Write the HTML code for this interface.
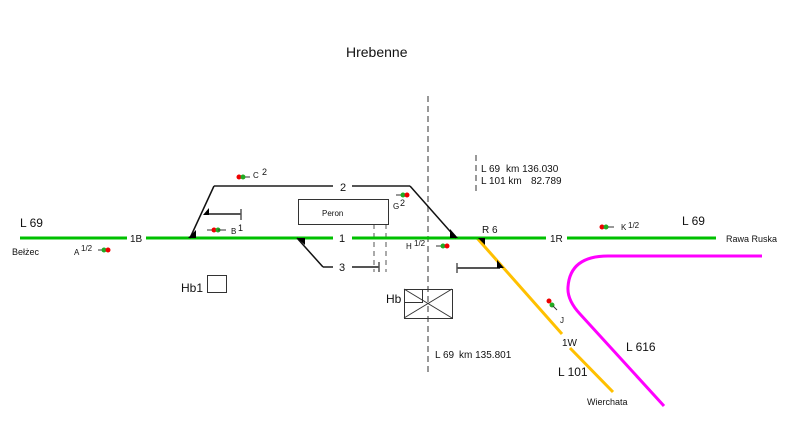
<!DOCTYPE html>
<html><head><meta charset="utf-8"><style>
html,body{margin:0;padding:0;background:#fff;}
svg text{font-family:"Liberation Sans",Arial,sans-serif;fill:#111;}
</style></head><body>
<svg width="787" height="435" viewBox="0 0 787 435" xmlns="http://www.w3.org/2000/svg">
<line x1="428" y1="96" x2="428" y2="373" stroke="#999" stroke-width="2" stroke-dasharray="6,4"/>
<line x1="476" y1="155" x2="476" y2="192" stroke="#999" stroke-width="2" stroke-dasharray="6,4"/>
<line x1="374" y1="224" x2="374" y2="272" stroke="#555" stroke-width="1" stroke-dasharray="5,4"/>
<line x1="386" y1="224" x2="386" y2="272" stroke="#555" stroke-width="1" stroke-dasharray="5,4"/>
<path d="M762,256 L608,256 Q570,256 568,287 Q567,300 580,314 L664,406" fill="none" stroke="#ff00ff" stroke-width="3"/>
<line x1="477" y1="238" x2="562" y2="334" stroke="#ffc000" stroke-width="3"/>
<line x1="570" y1="348" x2="613" y2="392" stroke="#ffc000" stroke-width="3"/>
<g stroke="#00c000" stroke-width="3">
<line x1="20" y1="238" x2="127" y2="238"/>
<line x1="146" y1="238" x2="333" y2="238"/>
<line x1="352" y1="238" x2="546" y2="238"/>
<line x1="567" y1="238" x2="716" y2="238"/>
</g>
<g stroke="#555" stroke-width="2" fill="none">
<line x1="214" y1="186" x2="333" y2="186"/>
<line x1="352" y1="186" x2="410" y2="186"/>
<line x1="208" y1="214" x2="241" y2="214"/>
<line x1="241" y1="209" x2="241" y2="220" stroke-width="1.5"/>
<line x1="323" y1="267" x2="333" y2="267"/>
<line x1="352" y1="267" x2="379" y2="267"/>
<line x1="379" y1="262" x2="379" y2="272" stroke-width="1.5"/>
<line x1="457" y1="268" x2="500" y2="268"/>
<line x1="457" y1="263" x2="457" y2="273" stroke-width="1.5"/>
</g>
<g stroke="#111" stroke-width="1.5" fill="none">
<line x1="190" y1="238" x2="214" y2="186"/>
<line x1="410" y1="186" x2="456" y2="238"/>
<line x1="297" y1="238" x2="323" y2="267"/>
</g>
<g fill="#000">
<polygon points="188,238 196,238 196,230"/>
<polygon points="203,215 209,215 209,208"/>
<polygon points="450,238 458,238 450,229"/>
<polygon points="297,238 305,238 305,245"/>
<polygon points="478,238 485,238 485,245"/>
<polygon points="497,268 504,268 497,260"/>
</g>
<rect x="298.5" y="199.5" width="90" height="25" fill="none" stroke="#333" stroke-width="1"/>
<text x="322" y="216" font-size="8">Peron</text>
<rect x="404.5" y="289.5" width="48" height="29" fill="none" stroke="#333" stroke-width="1"/>
<rect x="404.5" y="289.5" width="18" height="13" fill="none" stroke="#333" stroke-width="1"/>
<line x1="404" y1="289" x2="452" y2="318" stroke="#333" stroke-width="1"/>
<line x1="452" y1="289" x2="404" y2="318" stroke="#333" stroke-width="1"/>
<text x="386" y="303" font-size="12">Hb</text>
<rect x="207.5" y="275.5" width="19" height="17" fill="none" stroke="#333" stroke-width="1"/>
<text x="181" y="292" font-size="12">Hb1</text>
<g>
<line x1="240" y1="177" x2="250" y2="177" stroke="#333"/><circle cx="239" cy="177" r="2.5" fill="#e00"/><circle cx="243" cy="177" r="2.5" fill="#2a2"/>
<line x1="207" y1="230" x2="216" y2="230" stroke="#333"/><circle cx="214" cy="230" r="2.5" fill="#e00"/><circle cx="218" cy="230" r="2.5" fill="#2a2"/><line x1="218" y1="230" x2="226" y2="230" stroke="#333"/>
<line x1="396" y1="195" x2="403" y2="195" stroke="#333"/><circle cx="403" cy="195" r="2.5" fill="#2a2"/><circle cx="407" cy="195" r="2.5" fill="#e00"/>
<line x1="436" y1="246" x2="443" y2="246" stroke="#333"/><circle cx="443" cy="246" r="2.5" fill="#2a2"/><circle cx="447" cy="246" r="2.5" fill="#e00"/>
<line x1="98" y1="250" x2="104" y2="250" stroke="#333"/><circle cx="104" cy="250" r="2.5" fill="#2a2"/><circle cx="108" cy="250" r="2.5" fill="#e00"/>
<circle cx="602" cy="227" r="2.5" fill="#e00"/><circle cx="606" cy="227" r="2.5" fill="#2a2"/><line x1="608" y1="227" x2="614" y2="227" stroke="#333"/>
<circle cx="549" cy="301" r="2.5" fill="#e00"/><circle cx="552" cy="305" r="2.5" fill="#2a2"/><line x1="553" y1="306" x2="557" y2="310" stroke="#333"/>
</g>
<text x="346" y="57" font-size="14">Hrebenne</text>
<text x="20" y="227" font-size="12">L 69</text>
<text x="12" y="255" font-size="9">Bełżec</text>
<text x="74" y="255" font-size="8">A</text><text x="81" y="251" font-size="8">1/2</text>
<text x="130" y="242" font-size="10">1B</text>
<text x="253" y="178" font-size="8">C</text><text x="262" y="175" font-size="9">2</text>
<text x="231" y="234" font-size="8">B</text><text x="238" y="231" font-size="9">1</text>
<text x="340" y="191" font-size="11">2</text>
<text x="339" y="242" font-size="11">1</text>
<text x="339" y="271" font-size="11">3</text>
<text x="393" y="209" font-size="8">G</text><text x="400" y="206" font-size="9">2</text>
<text x="406" y="249" font-size="8">H</text><text x="414" y="246" font-size="8">1/2</text>
<text x="481" y="172" font-size="10">L 69</text><text x="506" y="172" font-size="10">km 136.030</text>
<text x="481" y="184" font-size="10">L 101 km</text><text x="531" y="184" font-size="10">82.789</text>
<text x="482" y="233" font-size="10">R 6</text>
<text x="550" y="242" font-size="10">1R</text>
<text x="621" y="230" font-size="8">K</text><text x="628" y="228" font-size="8">1/2</text>
<text x="682" y="225" font-size="12">L 69</text>
<text x="726" y="242" font-size="9">Rawa Ruska</text>
<text x="560" y="323" font-size="8">J</text>
<text x="562" y="346" font-size="10">1W</text>
<text x="626" y="351" font-size="12">L 616</text>
<text x="558" y="376" font-size="12">L 101</text>
<text x="587" y="405" font-size="9">Wierchata</text>
<text x="435" y="358" font-size="10">L 69</text><text x="459" y="358" font-size="10">km 135.801</text>
</svg>
</body></html>
